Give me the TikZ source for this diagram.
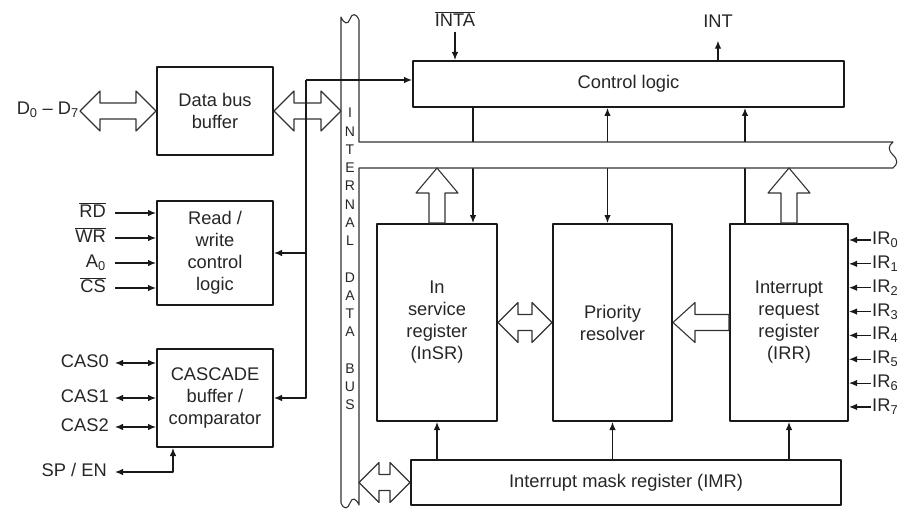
\documentclass[tikz,border=0pt]{standalone}
\usepackage{fontspec}
\setmainfont{Liberation Sans}
\usetikzlibrary{arrows.meta,calc}
\tikzset{
  head length/.store in=\HeadLen,
  head width/.store in=\HeadW,
  shaft width/.store in=\ShaftW,
  head length=20pt,
  head width=20pt,
  shaft width=8pt
}
\newcommand{\ovl}[1]{$\overline{\hbox{#1}}$}

\begin{document}
\begin{tikzpicture}[x=1pt, y=-1pt, line join=round,
  >={Latex[length=8pt,width=6.5pt]},
  every node/.style={font=\fontsize{18.3}{22}\selectfont, text=black!85},
  box/.style={draw=black!90, line width=2pt, align=center, inner sep=2pt},
  lbl/.style={inner sep=1pt, text height=13pt, text depth=4pt},
  busltr/.style={font=\fontsize{14}{14}\selectfont, inner sep=0pt},
  wire/.style={draw=black!90, line width=1.2pt},
  hollow/.style={draw=black!80, line width=1.1pt},
  bus/.style={draw=black!80, line width=1.1pt, fill=white}]
  \useasboundingbox (0,0) rectangle (898,511);

  % hollow double arrow, y taken from the second point
  \newcommand{\DblArrow}[3][]{%
    \draw[hollow,#1] let \p1=#2, \p2=#3 in
      (\x1,\y2) -- (\x1+\HeadLen,\y2+\HeadW) -- (\x1+\HeadLen,\y2+\ShaftW)
      -- (\x2-\HeadLen,\y2+\ShaftW) -- (\x2-\HeadLen,\y2+\HeadW) -- (\x2,\y2)
      -- (\x2-\HeadLen,\y2-\HeadW) -- (\x2-\HeadLen,\y2-\ShaftW)
      -- (\x1+\HeadLen,\y2-\ShaftW) -- (\x1+\HeadLen,\y2-\HeadW) -- cycle;}
  % hollow arrow pointing left: tail #2, tip #3
  \newcommand{\LeftArrow}[3][]{%
    \draw[hollow,#1] let \p1=#2, \p2=#3 in
      (\x2,\y2) -- (\x2+\HeadLen,\y2+\HeadW) -- (\x2+\HeadLen,\y2+\ShaftW)
      -- (\x1,\y2+\ShaftW) -- (\x1,\y2-\ShaftW) -- (\x2+\HeadLen,\y2-\ShaftW)
      -- (\x2+\HeadLen,\y2-\HeadW) -- cycle;}
  % hollow arrow pointing up: tail #2, tip #3
  \newcommand{\UpArrow}[3][]{%
    \draw[hollow,#1] let \p1=#2, \p2=#3 in
      (\x1,\y2) -- (\x1+\HeadW,\y2-\HeadLen) -- (\x1+\ShaftW,\y2-\HeadLen)
      -- (\x1+\ShaftW,\y1) -- (\x1-\ShaftW,\y1) -- (\x1-\ShaftW,\y2-\HeadLen)
      -- (\x1-\HeadW,\y2-\HeadLen) -- cycle;}

  % internal data bus edges
  \coordinate (busL) at (341,0);
  \coordinate (busR) at (359,0);
  \coordinate (busT) at (0,142);
  \coordinate (busB) at (0,168);

  % blocks, left column
  \node[box, minimum width=116pt, minimum height=88pt] (dbb) at (215,111) {Data bus\\buffer};
  \node[box, minimum width=116pt, minimum height=104pt] (rwc) at (215,253) {Read /\\write\\control\\logic};
  \node[box, minimum width=116pt, minimum height=98pt] (cas) at (215,398) {CASCADE\\buffer /\\comparator};

  % blocks, right side
  \node[box, minimum width=431pt, minimum height=46pt] (ctrl) at (628.5,84) {Control logic};
  \node[box, minimum width=120pt, minimum height=197pt] (insr) at (437,322.5) {In\\service\\register\\(InSR)};
  \node[box, minimum width=119pt, minimum height=197pt] (prio) at (612.5,322.5) {Priority\\resolver};
  \node[box, minimum width=118pt, minimum height=197pt] (irr) at (789,322.5) {Interrupt\\request\\register\\(IRR)};
  \node[box, minimum width=430pt, minimum height=45pt] (imr) at (626,482.5) {Interrupt mask register (IMR)};

  % control logic <-> registers (go under the bus)
  \coordinate (sIn) at ([xshift=36pt]insr.north);
  \coordinate (sPr) at ([xshift=-5pt]prio.north);
  \coordinate (sIr) at ([xshift=-44pt]irr.north);
  \draw[wire, ->] (sIn |- ctrl.south) -- (sIn);
  \draw[wire, <->] (sPr |- ctrl.south) -- (sPr);
  \draw[wire, ->] (sIr) -- (sIr |- ctrl.south);

  % the bus itself
  \draw[bus] (359,142) -- (359,20) .. controls (356,13) and (352,13) .. (350,19)
    .. controls (348,25) and (344,24) .. (341,17) -- (341,503)
    .. controls (344,510) and (348,509) .. (350,503)
    .. controls (352,497) and (356,498) .. (359,505) -- (359,168) -- (893,168)
    .. controls (898,164) and (898,160) .. (893,155)
    .. controls (888,150) and (888,146) .. (893,142) -- cycle;
  \foreach \k/\ch in {0/I,1/N,2/T,3/E,4/R,5/N,6/A,7/L,9/D,10/A,11/T,12/A,14/B,15/U,16/S}
    \node[busltr] (bl\k) at (350,{113+18.25*\k}) {\ch};

  % data lines
  \node[lbl, anchor=east] (dlbl) at (80,110) {D\textsubscript{0} -- D\textsubscript{7}};
  \DblArrow{(dlbl.east)}{(dbb.west)}
  \DblArrow{(dbb.east)}{(dbb.east -| busL)}

  % tap from the bus to control logic, read/write and cascade
  \coordinate (tap) at (306,80);
  \draw[wire, ->] (tap) -- (tap -| ctrl.west);
  \draw[wire, ->] (tap) |- (rwc.east);
  \draw[wire, ->] (tap) |- (cas.east);

  % read / write inputs
  \foreach \nm/\txt/\yy in {rd/\ovl{RD}/213, wr/\ovl{WR}/238, a0/A\textsubscript{0}/263, cs/\ovl{CS}/288} {
    \node[lbl, anchor=east] (\nm) at (107,\yy) {\txt};
    \draw[wire, ->] ([xshift=8pt]\nm.east) -- (\nm.east -| rwc.west);
  }

  % cascade lines
  \foreach \nm/\txt/\yy in {cas0/CAS0/363, cas1/CAS1/398, cas2/CAS2/427} {
    \node[lbl, anchor=east] (\nm) at (110,\yy) {\txt};
    \draw[wire, <->] ([xshift=5pt]\nm.east) -- (\nm.east -| cas.west);
  }
  \node[lbl, anchor=east] (spen) at (108,472) {SP / EN};
  \draw[wire, <->] ([xshift=7pt]spen.east) -| ([xshift=-42pt]cas.south);

  % INTA / INT
  \node[lbl] (intalbl) at (455,22) {\ovl{INTA}};
  \draw[wire, ->] (intalbl.south) -- (intalbl.south |- ctrl.north);
  \node[lbl] (intlbl) at (718,23) {INT};
  \coordinate (intc) at ([yshift=-8pt]intlbl.south);
  \draw[wire, ->] (intc |- ctrl.north) -- (intc);

  % register paths
  \DblArrow{(insr.east)}{(prio.west)}
  \LeftArrow[head length=22pt]{(irr.west)}{(prio.east)}
  \UpArrow[head length=25pt, head width=21pt]{(insr.north)}{(insr.north |- busB)}
  \UpArrow[head length=25pt, head width=21pt]{(irr.north)}{(irr.north |- busB)}
  \DblArrow{(imr.west -| busR)}{(imr.west)}
  \foreach \b in {insr, prio, irr}
    \draw[wire, ->] (imr.north -| \b.south) -- (\b.south);

  % interrupt requests
  \foreach \i in {0,...,7} {
    \node[lbl, anchor=west] (ir\i) at (871,{240+23.85*\i}) {IR\textsubscript{\i}};
    \draw[wire, ->] (ir\i.west) -- (ir\i.west -| irr.east);
  }
\end{tikzpicture}
\end{document}
